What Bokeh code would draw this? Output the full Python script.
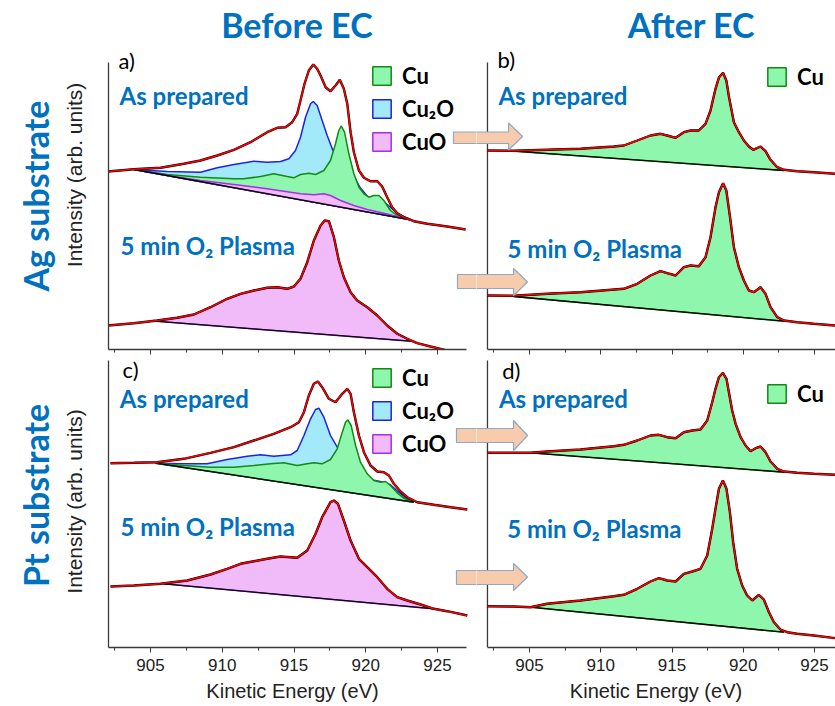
import numpy as np
from bokeh.plotting import figure
from bokeh.layouts import column, row
from bokeh.models import (Range1d, FixedTicker, Label, Legend, LegendItem, Title,
                          CustomLabelingPolicy)
from bokeh.embed import file_html
from bokeh.resources import INLINE

# ---------------------------------------------------------------- data
# kinetic energy (eV) / intensity (arb. units, stacked offsets)
MAJOR_TICKS = [905, 910, 915, 920, 925]
MINOR_TICKS = [902.5, 907.5, 912.5, 917.5, 922.5]

# (a) Ag substrate, before EC, as prepared
A1_X = [901.98, 903.84, 905.70, 907.32, 908.48, 909.65, 910.81, 911.97, 913.13, 913.83,
        914.41, 914.87, 915.22, 915.45, 915.73, 916.03, 916.34, 916.61, 916.85, 917.20,
        917.54, 917.89, 918.19, 918.47, 918.71, 918.94, 919.17, 919.52, 919.87, 920.33,
        920.80, 921.14, 921.49, 921.84, 922.19, 922.65, 923.35, 924.28, 925.67, 926.95]
A1_FIT = [178, 180.3, 181.7, 185.7, 189, 194, 199.7, 207.3, 217.3, 221.7,
          222.3, 227.3, 235.7, 249, 265.7, 279, 285, 280.7, 274, 262.3,
          258.3, 264, 269.7, 260.7, 245.7, 217.3, 197.3, 179, 171.7, 168.3,
          168.3, 163, 152.3, 142.3, 136.3, 132.3, 128.3, 125.7, 123, 120]
A1_BASE_X = [903.84, 923.12]
A1_BASE_Y = [180.0, 129.7]
A1_CU2O_X = [903.84, 906.16, 908.48, 909.65, 910.81, 912.20, 913.13, 914.06, 914.64, 915.10,
             915.45, 915.80, 916.15, 916.34, 916.61, 916.96, 917.31, 917.71, 918.0, 918.5,
             919.0, 919.6, 920.3, 921.0, 921.5, 921.9, 922.3, 922.7, 923.12]
A1_CU2O_Y = [180, 178, 177.3, 181.7, 185, 188.3, 187.3, 188, 190.7, 199,
             212.3, 232.3, 245.7, 248, 244, 229, 214, 199, 195, 188,
             178, 162, 150, 150, 145, 140, 135.5, 132.5, 129.7]
A1_CU_X = [903.84, 906.16, 908.48, 910.81, 911.50, 912.67, 913.59, 914.52, 914.99, 915.45,
           916.03, 916.50, 917.08, 917.54, 917.89, 918.12, 918.29, 918.52, 918.82, 919.17,
           919.52, 919.87, 920.21, 920.56, 920.91, 921.26, 921.72, 922.19, 922.65, 923.12]
A1_CU_Y = [180, 175, 172.3, 170.7, 170.7, 173, 175.7, 173, 171.7, 175,
           176.3, 175, 179, 189, 205.7, 219, 223.3, 217.3, 195.7, 175.7,
           162.3, 155.7, 152.3, 154, 154, 149, 139, 134, 131.3, 129.7]
A1_CUO_X = [903.84, 906.16, 908.48, 910.81, 913.13, 914.29, 915.45, 916.38, 917.08, 917.54,
            918.24, 919.17, 920.10, 921.26, 922.42, 923.12]
A1_CUO_Y = [180, 174, 169, 165, 160.7, 158.3, 155.7, 154.7, 155.7, 154,
            149, 144, 140, 136.3, 132.3, 129.7]

# (a) Ag substrate, before EC, 5 min O2 plasma
A2_X = [901.98, 903.84, 905.46, 906.86, 908.02, 909.18, 910.34, 911.27, 912.20, 913.13,
        913.83, 914.52, 914.99, 915.45, 915.92, 916.38, 916.85, 917.13, 917.43, 917.78,
        918.12, 918.47, 918.94, 919.40, 920.10, 920.80, 921.49, 922.19, 922.89, 923.58,
        924.51, 925.21, 925.90]
A2_FIT = [24, 26.3, 29, 31.7, 35, 42.3, 50.7, 55.7, 59, 61.7,
          62.3, 60.7, 63, 70.7, 87.3, 109, 124, 129, 128.3, 112.3,
          89, 72.3, 57.3, 49, 42.3, 34, 24, 15.7, 10.7, 6.3,
          3, 0.7, -2]
A2_BASE_X = [905.35, 923.12]
A2_BASE_Y = [28.3, 8.3]

# (b) Ag substrate, after EC, as prepared
B1_X = [902.03, 903.90, 906.24, 908.58, 910.92, 911.62, 912.56, 913.49, 914.19, 914.66,
        915.25, 915.83, 916.30, 916.88, 917.35, 917.70, 918.05, 918.30, 918.58, 918.81,
        919.00, 919.34, 919.69, 920.04, 920.39, 920.70, 921.21, 921.56, 921.91, 922.38,
        922.85, 923.78, 924.95, 926.47]
B1_FIT = [199, 198.7, 199.7, 200.7, 203, 204, 209, 214, 215.7, 214,
          211.7, 217.3, 219, 219, 225.7, 239, 260.7, 272.3, 276.7, 269,
          252.3, 227.3, 217.3, 209, 203, 199.7, 203, 198.3, 189.7, 182.3,
          179.7, 178.3, 177.3, 175.7]
B1_BASE_X = [903.90, 922.85]
B1_BASE_Y = [198.3, 179.0]

# (b) Ag substrate, after EC, 5 min O2 plasma
B2_X = [902.03, 903.90, 906.24, 908.58, 911.62, 912.56, 913.49, 914.19, 914.66, 915.25,
        915.83, 916.30, 916.88, 917.35, 917.70, 918.05, 918.29, 918.58, 918.81, 919.07,
        919.34, 919.69, 920.04, 920.39, 920.74, 921.21, 921.56, 921.91, 922.38, 922.85,
        923.78, 924.95, 926.47]
B2_FIT = [54, 53.7, 55.7, 57.3, 60.7, 65.7, 74, 78.3, 76.3, 74,
          82.3, 84, 83.3, 92.3, 112.3, 142.3, 157.3, 166.3, 159, 132.3,
          102.3, 82.3, 69, 59, 57.3, 62.3, 55.7, 42.3, 32.3, 29,
          27.3, 25.7, 24]
B2_BASE_X = [903.90, 922.85]
B2_BASE_Y = [53.0, 28.3]

# (c) Pt substrate, before EC, as prepared
C1_X = [902.21, 903.84, 905.46, 907.32, 909.18, 910.81, 912.20, 913.59, 914.76, 915.34,
        915.69, 916.03, 916.38, 916.66, 916.96, 917.43, 917.89, 918.36, 918.71, 918.94,
        919.17, 919.52, 919.87, 920.33, 920.80, 921.26, 921.61, 921.96, 922.42, 922.89,
        923.58, 924.74, 925.91, 927.07]
C1_FIT = [184.3, 184.7, 185.3, 188.7, 194.7, 200.3, 207, 213.7, 220.3, 225.3,
          235.3, 252, 263.7, 266, 260.3, 248.7, 245.3, 253.7, 258.7, 253.7,
          235.3, 212, 195.3, 182, 176, 175.3, 172, 163.7, 156, 150.3,
          145.3, 142.7, 140.3, 138]
C1_BASE_X = [905.35, 923.35]
C1_BASE_Y = [184.3, 145.3]
C1_CU2O_X = [905.35, 907.32, 908.95, 910.34, 911.74, 912.67, 913.59, 914.76, 915.22, 915.69,
             916.15, 916.50, 916.73, 917.08, 917.54, 918.01, 918.5, 919.0, 919.6, 920.3,
             921.0, 921.7, 922.2, 922.7, 923.35]
C1_CU2O_Y = [184.3, 183.7, 183.7, 188, 191.3, 192.7, 191.3, 192.7, 197, 212,
             228.7, 238, 239.3, 230.3, 212, 200.3, 195, 188, 178, 168,
             166, 163, 156.5, 150.5, 145.3]
C1_CU_X = [905.35, 907.32, 909.18, 910.81, 912.20, 913.36, 914.29, 915.22, 915.92, 916.38,
           916.96, 917.54, 918.01, 918.36, 918.59, 918.75, 918.98, 919.29, 919.63, 920.10,
           920.56, 921.03, 921.38, 921.72, 922.19, 922.65, 923.35]
C1_CU_Y = [184.3, 182, 180.3, 180.3, 182, 183.7, 184.7, 182, 183.7, 184.7,
           183.7, 188, 198.7, 215.3, 225.3, 227.7, 222, 202, 185.3, 173.7,
           167, 165.3, 166, 162, 154.7, 149.3, 145.3]

# (c) Pt substrate, before EC, 5 min O2 plasma
C2_X = [902.21, 903.84, 905.70, 907.56, 909.18, 910.34, 911.27, 912.20, 913.13, 914.06,
        915.22, 915.92, 916.50, 916.96, 917.54, 917.78, 918.06, 918.47, 918.94, 919.52,
        920.10, 920.80, 921.49, 922.19, 922.89, 923.82, 924.74, 925.67, 927.07]
C2_FIT = [61, 62, 63.7, 67, 73, 78.7, 83.7, 86.3, 88.7, 91,
          89.7, 97, 113.7, 130.3, 145.3, 147, 143.7, 127, 107, 88.7,
          80.3, 70.3, 58.7, 50.3, 47, 43, 38.7, 36.3, 32]
C2_BASE_X = [905.93, 924.98]
C2_BASE_Y = [63.7, 38.3]

# (d) Pt substrate, after EC, as prepared
D1_X = [902.03, 903.90, 905.07, 906.24, 908.58, 910.92, 911.62, 912.56, 913.49, 914.08,
        914.66, 915.25, 915.83, 916.42, 917.00, 917.47, 917.82, 918.05, 918.29, 918.57,
        918.82, 918.99, 919.22, 919.46, 919.81, 920.16, 920.51, 920.87, 921.21, 921.56,
        921.91, 922.38, 922.85, 923.78, 924.95, 926.47]
D1_FIT = [194.7, 194.7, 194.7, 196, 198, 201.3, 202.7, 207, 212, 212.7,
          210.3, 209.3, 215.3, 217, 218, 227, 245.3, 258.7, 270.3, 274.7,
          268.7, 255.3, 237, 223.7, 210.3, 202, 196.3, 199.3, 201, 195.3,
          186, 178.7, 176, 174.7, 173.7, 172.7]
D1_BASE_X = [905.07, 922.85]
D1_BASE_Y = [194.7, 175.3]

# (d) Pt substrate, after EC, 5 min O2 plasma
D2_X = [902.03, 903.90, 905.07, 906.24, 908.58, 910.92, 911.62, 912.56, 913.49, 914.08,
        914.66, 915.25, 915.83, 916.42, 917.00, 917.47, 917.82, 918.05, 918.29, 918.57,
        918.82, 919.06, 919.29, 919.57, 919.92, 920.27, 920.63, 921.09, 921.44, 921.80,
        922.15, 922.61, 923.08, 923.78, 924.95, 926.47]
D2_FIT = [41.3, 41, 40.3, 43.7, 47, 51.3, 52.7, 58.7, 66, 69.3,
          67, 66, 73.7, 76, 78.7, 92, 118.7, 138.7, 158.7, 167,
          158.7, 135.3, 105.3, 78.7, 62, 52, 47, 52.7, 48, 35.3,
          25.3, 18, 15.3, 13.7, 12, 9.3]
D2_BASE_X = [905.07, 922.85]
D2_BASE_Y = [40.3, 15.3]

# block arrows: body low/high, head low/high, start (left panel eV), head base & tip (right panel eV)
ARROWS_TOP = [(206, 217.5, 199.5, 226.5, 926.11, 903.53, 904.51),
              (61, 75, 54, 81, 926.39, 903.88, 904.86)]
ARROWS_BOTTOM = [(205, 219, 197, 227, 926.32, 903.88, 904.86),
                 (63, 77, 57, 84, 926.32, 903.88, 904.86)]

# ---------------------------------------------------------------- style
BLUE_TXT = "#0070C0"
RED = "#FF0000"
AX_C = "#3a3a3a"
CU_FILL, CU_LINE = "#8FF6AE", "#138A13"
CU2O_FILL, CU2O_LINE = "#A2EAFA", "#1E22E6"
CUO_FILL, CUO_LINE = "#F1BAF8", "#A52FE6"
ARROW_FILL, ARROW_LINE = "#F8CBAD", "#8EA9C6"
SANS = "Liberation Sans"
TITLE_FONT = "Lato"

XR_LEFT = (902.07, 927.715)
XR_RIGHT = (901.28, 926.47)
X_AXIS_LEFT = (902.07, 927.0)
X_AXIS_RIGHT = (902.05, 927.0)
Y_AXIS = (0, 287)

NO_LABELS = CustomLabelingPolicy(code="""
    for (const i of indices) { indices.unset(i) }
    return indices
""")


def make_panel(left, top):
    width = 476 if left else 359
    height = 355 if top else 351
    xr = XR_LEFT if left else XR_RIGHT
    p = figure(width=width, height=height, output_backend="svg", toolbar_location=None,
               x_range=Range1d(*xr), y_range=Range1d(0, 349 if top else 292),
               y_axis_location="left" if left else None,
               min_border=0,
               min_border_left=108 if left else 0, min_border_right=0,
               min_border_top=0, min_border_bottom=6 if top else 59)
    p.outline_line_color = None
    p.grid.grid_line_color = None
    p.background_fill_color = "white"
    p.border_fill_color = "white"
    xa = p.xaxis[0]
    xa.ticker = FixedTicker(ticks=MAJOR_TICKS, minor_ticks=MINOR_TICKS)
    xa.bounds = X_AXIS_LEFT if left else X_AXIS_RIGHT
    xa.axis_line_color = AX_C
    xa.axis_line_width = 1.3
    xa.major_tick_line_color = AX_C
    xa.minor_tick_line_color = AX_C
    xa.major_tick_in, xa.major_tick_out = 0, 5
    xa.minor_tick_in, xa.minor_tick_out = 0, 3
    if top:
        xa.major_label_policy = NO_LABELS
        xa.major_label_text_font_size = "0px"
        xa.major_label_standoff = 0
    else:
        xa.major_label_text_font = SANS
        xa.major_label_text_font_size = "17px"
        xa.major_label_text_color = "#222222"
        xa.major_label_standoff = 6
        xa.axis_label = "Kinetic Energy (eV)"
        xa.axis_label_text_font = SANS
        xa.axis_label_text_font_size = "20px"
        xa.axis_label_text_font_style = "normal"
        xa.axis_label_text_color = "#222222"
        xa.axis_label_standoff = 6
    if left:
        ya = p.yaxis[0]
        ya.ticker = FixedTicker(ticks=[])
        ya.bounds = Y_AXIS
        ya.major_label_policy = NO_LABELS
        ya.major_label_text_font_size = "0px"
        ya.major_label_standoff = 0
        ya.major_tick_in = ya.major_tick_out = 0
        ya.minor_tick_in = ya.minor_tick_out = 0
        ya.axis_line_color = AX_C
        ya.axis_line_width = 1.3
        ya.axis_label = "Intensity (arb. units)"
        ya.axis_label_text_font = SANS
        ya.axis_label_text_font_size = "21px"
        ya.axis_label_text_font_style = "normal"
        ya.axis_label_text_color = "#222222"
        ya.axis_label_standoff = 23
    else:
        # left spine of the right-hand panels
        p.segment(x0=[X_AXIS_RIGHT[0]], y0=[Y_AXIS[0]], x1=[X_AXIS_RIGHT[0]], y1=[Y_AXIS[1]],
                  line_color=AX_C, line_width=1.3)
    return p


def component(p, xs, ys, fill, line):
    return p.patch(xs, ys, fill_color=fill, line_color=line, line_width=1.5)


def single_fill(p, x, fit, bx, by, fill, line):
    x = np.asarray(x, dtype=float)
    y = np.asarray(fit, dtype=float)
    m = (x > bx[0]) & (x < bx[1])
    px = [bx[0]] + list(x[m]) + [bx[1]]
    py = [by[0]] + list(y[m]) + [by[1]]
    return p.patch(px, py, fill_color=fill, line_color=line, line_width=1.5)


def envelope(p, x, fit, bx, by):
    p.line(bx, by, color="black", line_width=1.3)
    p.line(x, fit, color="black", line_width=2.4)
    p.line(x, fit, color=RED, line_width=1.5)


def text(p, x, y, s, size, color=BLUE_TXT, style="bold", font=TITLE_FONT, align="left"):
    p.add_layout(Label(x=x, y=y, text=s, text_font=font, text_font_size=size,
                       text_font_style=style, text_color=color, text_align=align,
                       text_baseline="middle"))


def side_title(p, s, offset, standoff):
    p.add_layout(Title(text=s, align="left", offset=offset, standoff=standoff,
                       text_font=TITLE_FONT, text_font_size="34px",
                       text_font_style="bold", text_color=BLUE_TXT), "left")


def legend(p, items, loc):
    lg = Legend(items=[LegendItem(label=l, renderers=[r]) for l, r in items],
                location=loc, orientation="vertical",
                glyph_width=23, glyph_height=23, label_height=27, label_width=20,
                label_standoff=9, spacing=6, padding=0, margin=0,
                border_line_color=None, background_fill_alpha=0,
                label_text_font=TITLE_FONT, label_text_font_style="bold",
                label_text_font_size="22px", label_text_color="black")
    p.add_layout(lg)


def arrows_left(p, specs):
    for b0, b1, h0, h1, start, base, tip in specs:
        p.patch([start, 930, 930, start], [b0, b0, b1, b1],
                fill_color=ARROW_FILL, line_color=ARROW_LINE, line_width=1.2)


def arrows_right(p, specs):
    for b0, b1, h0, h1, start, base, tip in specs:
        mid = (h0 + h1) / 2
        p.patch([899, base, base, tip, base, base, 899],
                [b0, b0, h0, mid, h1, b1, b1],
                fill_color=ARROW_FILL, line_color=ARROW_LINE, line_width=1.2)


# ---------------------------------------------------------------- panel a
pa = make_panel(True, True)
r_cu2o = component(pa, A1_CU2O_X, A1_CU2O_Y, CU2O_FILL, CU2O_LINE)
r_cu = component(pa, A1_CU_X, A1_CU_Y, CU_FILL, CU_LINE)
r_cuo = component(pa, A1_CUO_X, A1_CUO_Y, CUO_FILL, CUO_LINE)
envelope(pa, A1_X, A1_FIT, A1_BASE_X, A1_BASE_Y)
single_fill(pa, A2_X, A2_FIT, A2_BASE_X, A2_BASE_Y, CUO_FILL, CUO_LINE)
envelope(pa, A2_X, A2_FIT, A2_BASE_X, A2_BASE_Y)
arrows_left(pa, ARROWS_TOP)
legend(pa, [("Cu", r_cu), ("Cu\u2082O", r_cu2o), ("CuO", r_cuo)], (262, 194))
text(pa, 902.77, 289.5, "a)", "22px", color="black", style="normal")
text(pa, 902.84, 254.3, "As prepared", "24px")
text(pa, 902.91, 104, "5 min O\u2082 Plasma", "24px")
text(pa, 915.2, 325, "Before EC", "34px", align="center")
side_title(pa, "Ag substrate", 58, 8)

# ---------------------------------------------------------------- panel b
pb = make_panel(False, True)
r_b = single_fill(pb, B1_X, B1_FIT, B1_BASE_X, B1_BASE_Y, CU_FILL, CU_LINE)
envelope(pb, B1_X, B1_FIT, B1_BASE_X, B1_BASE_Y)
single_fill(pb, B2_X, B2_FIT, B2_BASE_X, B2_BASE_Y, CU_FILL, CU_LINE)
envelope(pb, B2_X, B2_FIT, B2_BASE_X, B2_BASE_Y)
arrows_right(pb, ARROWS_TOP)
legend(pb, [("Cu", r_b)], (289, 259))
text(pb, 902.75, 290, "b)", "22px", color="black", style="normal")
text(pb, 902.82, 254, "As prepared", "24px")
text(pb, 903.46, 101.5, "5 min O\u2082 Plasma", "24px")
text(pb, 916.37, 325, "After EC", "34px", align="center")

# ---------------------------------------------------------------- panel c
pc = make_panel(True, False)
c_cu2o = component(pc, C1_CU2O_X, C1_CU2O_Y, CU2O_FILL, CU2O_LINE)
c_cu = component(pc, C1_CU_X, C1_CU_Y, CU_FILL, CU_LINE)
envelope(pc, C1_X, C1_FIT, C1_BASE_X, C1_BASE_Y)
c_cuo = single_fill(pc, C2_X, C2_FIT, C2_BASE_X, C2_BASE_Y, CUO_FILL, CUO_LINE)
envelope(pc, C2_X, C2_FIT, C2_BASE_X, C2_BASE_Y)
arrows_left(pc, ARROWS_BOTTOM)
legend(pc, [("Cu", c_cu), ("Cu\u2082O", c_cu2o), ("CuO", c_cuo)], (262, 190))
text(pc, 903.05, 278, "c)", "22px", color="black", style="normal")
text(pc, 902.86, 249.5, "As prepared", "24px")
text(pc, 902.91, 120.7, "5 min O\u2082 Plasma", "24px")
side_title(pc, "Pt substrate", 60.5, 8)

# ---------------------------------------------------------------- panel d
pd_ = make_panel(False, False)
d_cu = single_fill(pd_, D1_X, D1_FIT, D1_BASE_X, D1_BASE_Y, CU_FILL, CU_LINE)
envelope(pd_, D1_X, D1_FIT, D1_BASE_X, D1_BASE_Y)
single_fill(pd_, D2_X, D2_FIT, D2_BASE_X, D2_BASE_Y, CU_FILL, CU_LINE)
envelope(pd_, D2_X, D2_FIT, D2_BASE_X, D2_BASE_Y)
arrows_right(pd_, ARROWS_BOTTOM)
legend(pd_, [("Cu", d_cu)], (289, 240))
text(pd_, 903.08, 277, "d)", "22px", color="black", style="normal")
text(pd_, 902.85, 249.5, "As prepared", "24px")
text(pd_, 903.43, 119.5, "5 min O\u2082 Plasma", "24px")

layout = column(row(pa, pb), row(pc, pd_))
open("out.html", "w").write(file_html(layout, INLINE))
